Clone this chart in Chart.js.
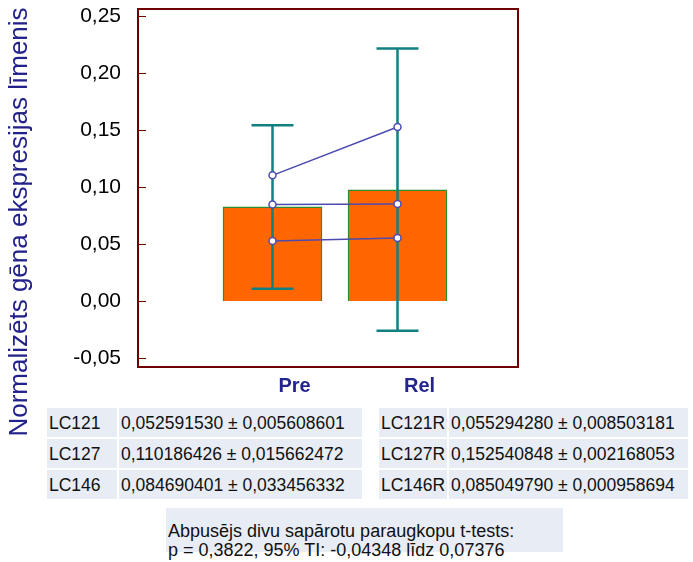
<!DOCTYPE html>
<html>
<head>
<meta charset="utf-8">
<script src="https://cdn.jsdelivr.net/npm/chart.js@4.4.1/dist/chart.umd.min.js"></script>
<style>
  body { margin: 0; background: #fff; font-family: "Liberation Sans", Arial, sans-serif; }
  #wrap { position: relative; width: 693px; height: 562px; overflow: hidden; }
  #chart { position: absolute; left: 0; top: 0; }
  #ytitle {
    position: absolute; left: -202px; top: 207px; width: 440px; height: 30px;
    line-height: 30px; text-align: center; font-size: 26px; color: #22228a;
    transform: rotate(-90deg); white-space: nowrap;
  }
  table.vals { position: absolute; border-collapse: separate; border-spacing: 2px; font-size: 17.5px; color: #111; }
  table.vals td { background: #e8ecf4; height: 28px; padding: 1px 0 0 2px; white-space: nowrap; }
  #tLeft { left: 45px; top: 406px; }
  #tRight { left: 377px; top: 406px; }
  #ttest {
    position: absolute; left: 166px; top: 508px; width: 397px; height: 44px;
    background: #e8ecf4; font-size: 18px; line-height: 19px; padding: 14px 0 0 2px; color: #111;
    box-sizing: border-box; white-space: nowrap;
  }
</style>
</head>
<body>
<div id="wrap">
  <canvas id="chart" width="693" height="400"></canvas>
  <div id="ytitle">Normalizēts gēna ekspresijas līmenis</div>
  <table class="vals" id="tLeft"></table>
  <table class="vals" id="tRight"></table>
  <div id="ttest"></div>
</div>
<script>
// dati
const categories = ['Pre', 'Rel'];
const meanValues = [0.0825, 0.0976];
const ciLow = [0.0108, -0.0262];
const ciHigh = [0.1542, 0.2214];
const sampleNames = ['LC121', 'LC127', 'LC146'];
const preValues = [0.052591530, 0.110186426, 0.084690401];
const preSd = ['0,005608601', '0,015662472', '0,033456332'];
const relValues = [0.055294280, 0.152540848, 0.085049790];
const relSd = ['0,008503181', '0,002168053', '0,000958694'];
const yTicks = [-0.05, 0, 0.05, 0.10, 0.15, 0.20, 0.25];
const testLines = ['Abpusējs divu sapārotu paraugkopu t-tests:', 'p = 0,3822, 95% TI: -0,04348 līdz 0,07376'];

const frameColor = '#6e0000';
const lineColor = '#4b4bb0';

function comma(v, d) { return v.toFixed(d).replace('.', ','); }

// tabulas
function fillTable(id, suffix, values, sds) {
  const t = document.getElementById(id);
  sampleNames.forEach((name, i) => {
    const tr = document.createElement('tr');
    const a = document.createElement('td');
    a.textContent = name + suffix;
    a.style.width = suffix ? '66px' : '68px';
    const b = document.createElement('td');
    b.textContent = comma(values[i], 9) + ' ± ' + sds[i];
    b.style.width = suffix ? '237px' : '241px';
    tr.appendChild(a); tr.appendChild(b);
    t.appendChild(tr);
  });
}
fillTable('tLeft', '', preValues, preSd);
fillTable('tRight', 'R', relValues, relSd);
document.getElementById('ttest').innerHTML = testLines.join('<br>');

Chart.defaults.font.family = '"Liberation Sans", Arial, sans-serif';

const boxPlugin = {
  id: 'boxPlugin',
  afterDatasetDraw(chart, args) {
    if (args.index !== 0) return;
    const ctx = chart.ctx, xs = chart.scales.x, ys = chart.scales.y;
    ctx.save();
    ctx.strokeStyle = '#128080';
    ctx.lineWidth = 2.5;
    categories.forEach((c, i) => {
      const x = xs.getPixelForValue(i);
      const lo = ys.getPixelForValue(ciLow[i]);
      const hi = ys.getPixelForValue(ciHigh[i]);
      ctx.beginPath();
      ctx.moveTo(x, lo); ctx.lineTo(x, hi);
      ctx.moveTo(x - 21, lo); ctx.lineTo(x + 21, lo);
      ctx.moveTo(x - 21, hi); ctx.lineTo(x + 21, hi);
      ctx.stroke();
    });
    ctx.restore();
  },
  afterDraw(chart) {
    const ctx = chart.ctx, a = chart.chartArea, ys = chart.scales.y;
    ctx.save();
    ctx.strokeStyle = frameColor;
    ctx.lineWidth = 1;
    yTicks.forEach(v => {
      const y = Math.round(ys.getPixelForValue(v)) + 0.5;
      ctx.beginPath();
      ctx.moveTo(a.left, y); ctx.lineTo(a.left + 8, y);
      ctx.stroke();
    });
    ctx.lineWidth = 2;
    ctx.strokeRect(a.left, a.top, a.right - a.left, a.bottom - a.top);
    ctx.restore();
  }
};

const datasets = [{
  type: 'bar',
  data: categories.map((c, i) => ({ x: i, y: meanValues[i] })),
  backgroundColor: '#ff6600',
  borderColor: '#2e8b2e',
  borderWidth: 1.5,
  barThickness: 99,
  order: 2
}];
sampleNames.forEach((name, i) => {
  datasets.push({
    type: 'line',
    label: name,
    data: [{ x: 0, y: preValues[i] }, { x: 1, y: relValues[i] }],
    borderColor: lineColor,
    borderWidth: 1.5,
    pointRadius: 3.5,
    pointBackgroundColor: '#fff',
    pointBorderColor: lineColor,
    pointBorderWidth: 1.5,
    order: 1
  });
});

new Chart(document.getElementById('chart'), {
  type: 'bar',
  data: { datasets },
  options: {
    responsive: false,
    animation: false,
    layout: { padding: { left: 0, top: 9, right: 175, bottom: 0 } },
    plugins: { legend: { display: false }, tooltip: { enabled: false } },
    scales: {
      x: {
        type: 'linear',
        offset: false,
        min: -1.076,
        max: 1.964,
        afterBuildTicks: s => { s.ticks = [0, 1].map(v => ({ value: v })); },
        afterFit: s => { s.height = 33; s.paddingLeft = 0; s.paddingRight = 0; },
        grid: { display: false, offset: false },
        border: { display: false },
        ticks: {
          callback: v => categories[v],
          font: { size: 20, weight: 'bold' },
          color: '#24248e',
          padding: -1,
          labelOffset: 22,
          maxRotation: 0
        }
      },
      y: {
        min: -0.0579,
        max: 0.2561,
        afterBuildTicks: s => { s.ticks = yTicks.map(v => ({ value: v })); },
        afterFit: s => { s.width = 138; s.paddingTop = 0; s.paddingBottom = 0; },
        grid: { display: false },
        border: { display: false },
        ticks: {
          callback: v => comma(v, 2),
          font: { size: 21 },
          color: '#000',
          padding: 9
        }
      }
    }
  },
  plugins: [boxPlugin]
});
</script>
</body>
</html>
